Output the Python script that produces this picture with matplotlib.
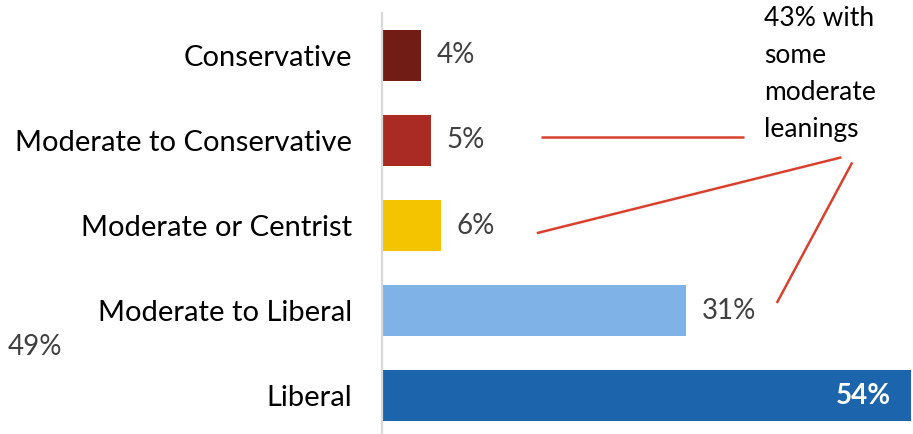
import matplotlib
matplotlib.use("Agg")
import matplotlib.pyplot as plt

categories = ["Conservative", "Moderate to Conservative", "Moderate or Centrist",
              "Moderate to Liberal", "Liberal"]
values = [4, 5, 6, 31, 54]
value_labels = ["4%", "5%", "6%", "31%", "54%"]
colors = ["#721c16", "#a92b23", "#f5c400", "#7fb3e8", "#1c64ab"]
annotation_text = "43% with\nsome\nmoderate\nleanings"
side_label = "49%"

FONT = "Lato"
W, H = 913, 434
fig = plt.figure(figsize=(W / 100, H / 100), dpi=100)
ax = fig.add_axes([382 / W, (H - 438.5) / H, (911 - 382) / W, (438.5 - 12.5) / H])

ypos = list(range(len(categories)))
ax.barh(ypos, values, height=0.6, color=colors)
ax.set_xlim(0, 54)
ax.set_ylim(len(categories) - 0.5, -0.5)

for s in ["top", "right", "bottom"]:
    ax.spines[s].set_visible(False)
ax.spines["left"].set_color("#d9d9d9")
ax.spines["left"].set_linewidth(1.6)
ax.set_xticks([])
ax.set_yticks(ypos)
ax.set_yticklabels(categories, fontsize=21, fontfamily=FONT, color="#000000")
ax.tick_params(axis="y", length=0, pad=21.5)

for i, (v, lab) in enumerate(zip(values, value_labels)):
    if i == len(values) - 1:
        ax.text(v - 2.1, i, lab, ha="right", va="center", fontsize=20,
                fontfamily=FONT, fontweight="bold", color="white")
    else:
        ax.text(v + 1.6, i, lab, ha="left", va="center", fontsize=20,
                fontfamily=FONT, color="#404040")

fig.text(8 / W, 1 - 347 / H, side_label, ha="left", va="center", fontsize=20,
         fontfamily=FONT, color="#404040")

fig.text(764 / W, 1 - 6 / H, annotation_text, ha="left", va="top", fontsize=19,
         fontfamily=FONT, color="#000000", linespacing=1.6)

red = "#d9412f"
lines = [((16.2, 0.96), (37.0, 0.96)),
         ((15.8, 2.09), (46.9, 1.20)),
         ((48.0, 1.26), (40.3, 2.91))]
for (x0, y0), (x1, y1) in lines:
    ax.plot([x0, x1], [y0, y1], color=red, linewidth=1.8, clip_on=False,
            solid_capstyle="butt")

fig.savefig("out.png", dpi=100)
